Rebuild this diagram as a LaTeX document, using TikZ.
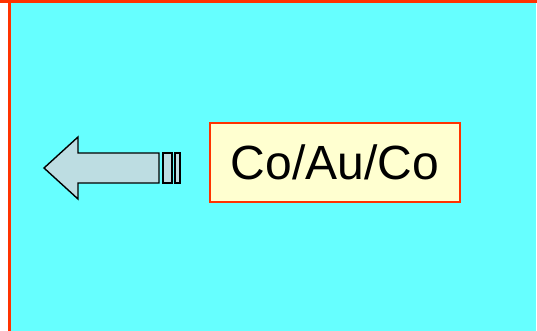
\documentclass[tikz,border=0pt]{standalone}
\usepackage{fontspec}
\setmainfont{Liberation Sans}
\definecolor{panelcyan}{HTML}{66FFFF}
\definecolor{framered}{HTML}{FF3300}
\definecolor{arrowfill}{HTML}{BDDDE2}
\definecolor{labelfill}{HTML}{FFFFD0}
\begin{document}
\begin{tikzpicture}[x=1pt,y=-1pt,
  arrowpart/.style={fill=arrowfill,draw=black,line width=1.4pt,line join=miter},
  labelbox/.style={draw=framered,fill=labelfill,line width=1.6pt,inner sep=0pt,
    minimum width=250pt,minimum height=79pt,font=\fontsize{48}{52}\selectfont}]
  \useasboundingbox (0,0) rectangle (537,331);
  \fill[white] (0,0) rectangle (537,331);
  % panel background with its frame
  \fill[panelcyan] (10,3) rectangle (536,331);
  \draw[framered,line width=3pt] (0,2) -- (537,2);
  \draw[framered,line width=2.5pt] (9.5,2) -- (9.5,331);
  % left-pointing block arrow with two tail bars
  \draw[arrowpart] (44,168) -- (78,137) -- (78,153) -- (159,153) -- (159,183)
    -- (78,183) -- (78,199) -- cycle;
  \draw[arrowpart] (163,153) rectangle (172,183);
  \draw[arrowpart] (175,153) rectangle (180,183);
  % label
  \node[labelbox] (lbl) at (335,162.5) {Co/Au/Co};
\end{tikzpicture}
\end{document}
